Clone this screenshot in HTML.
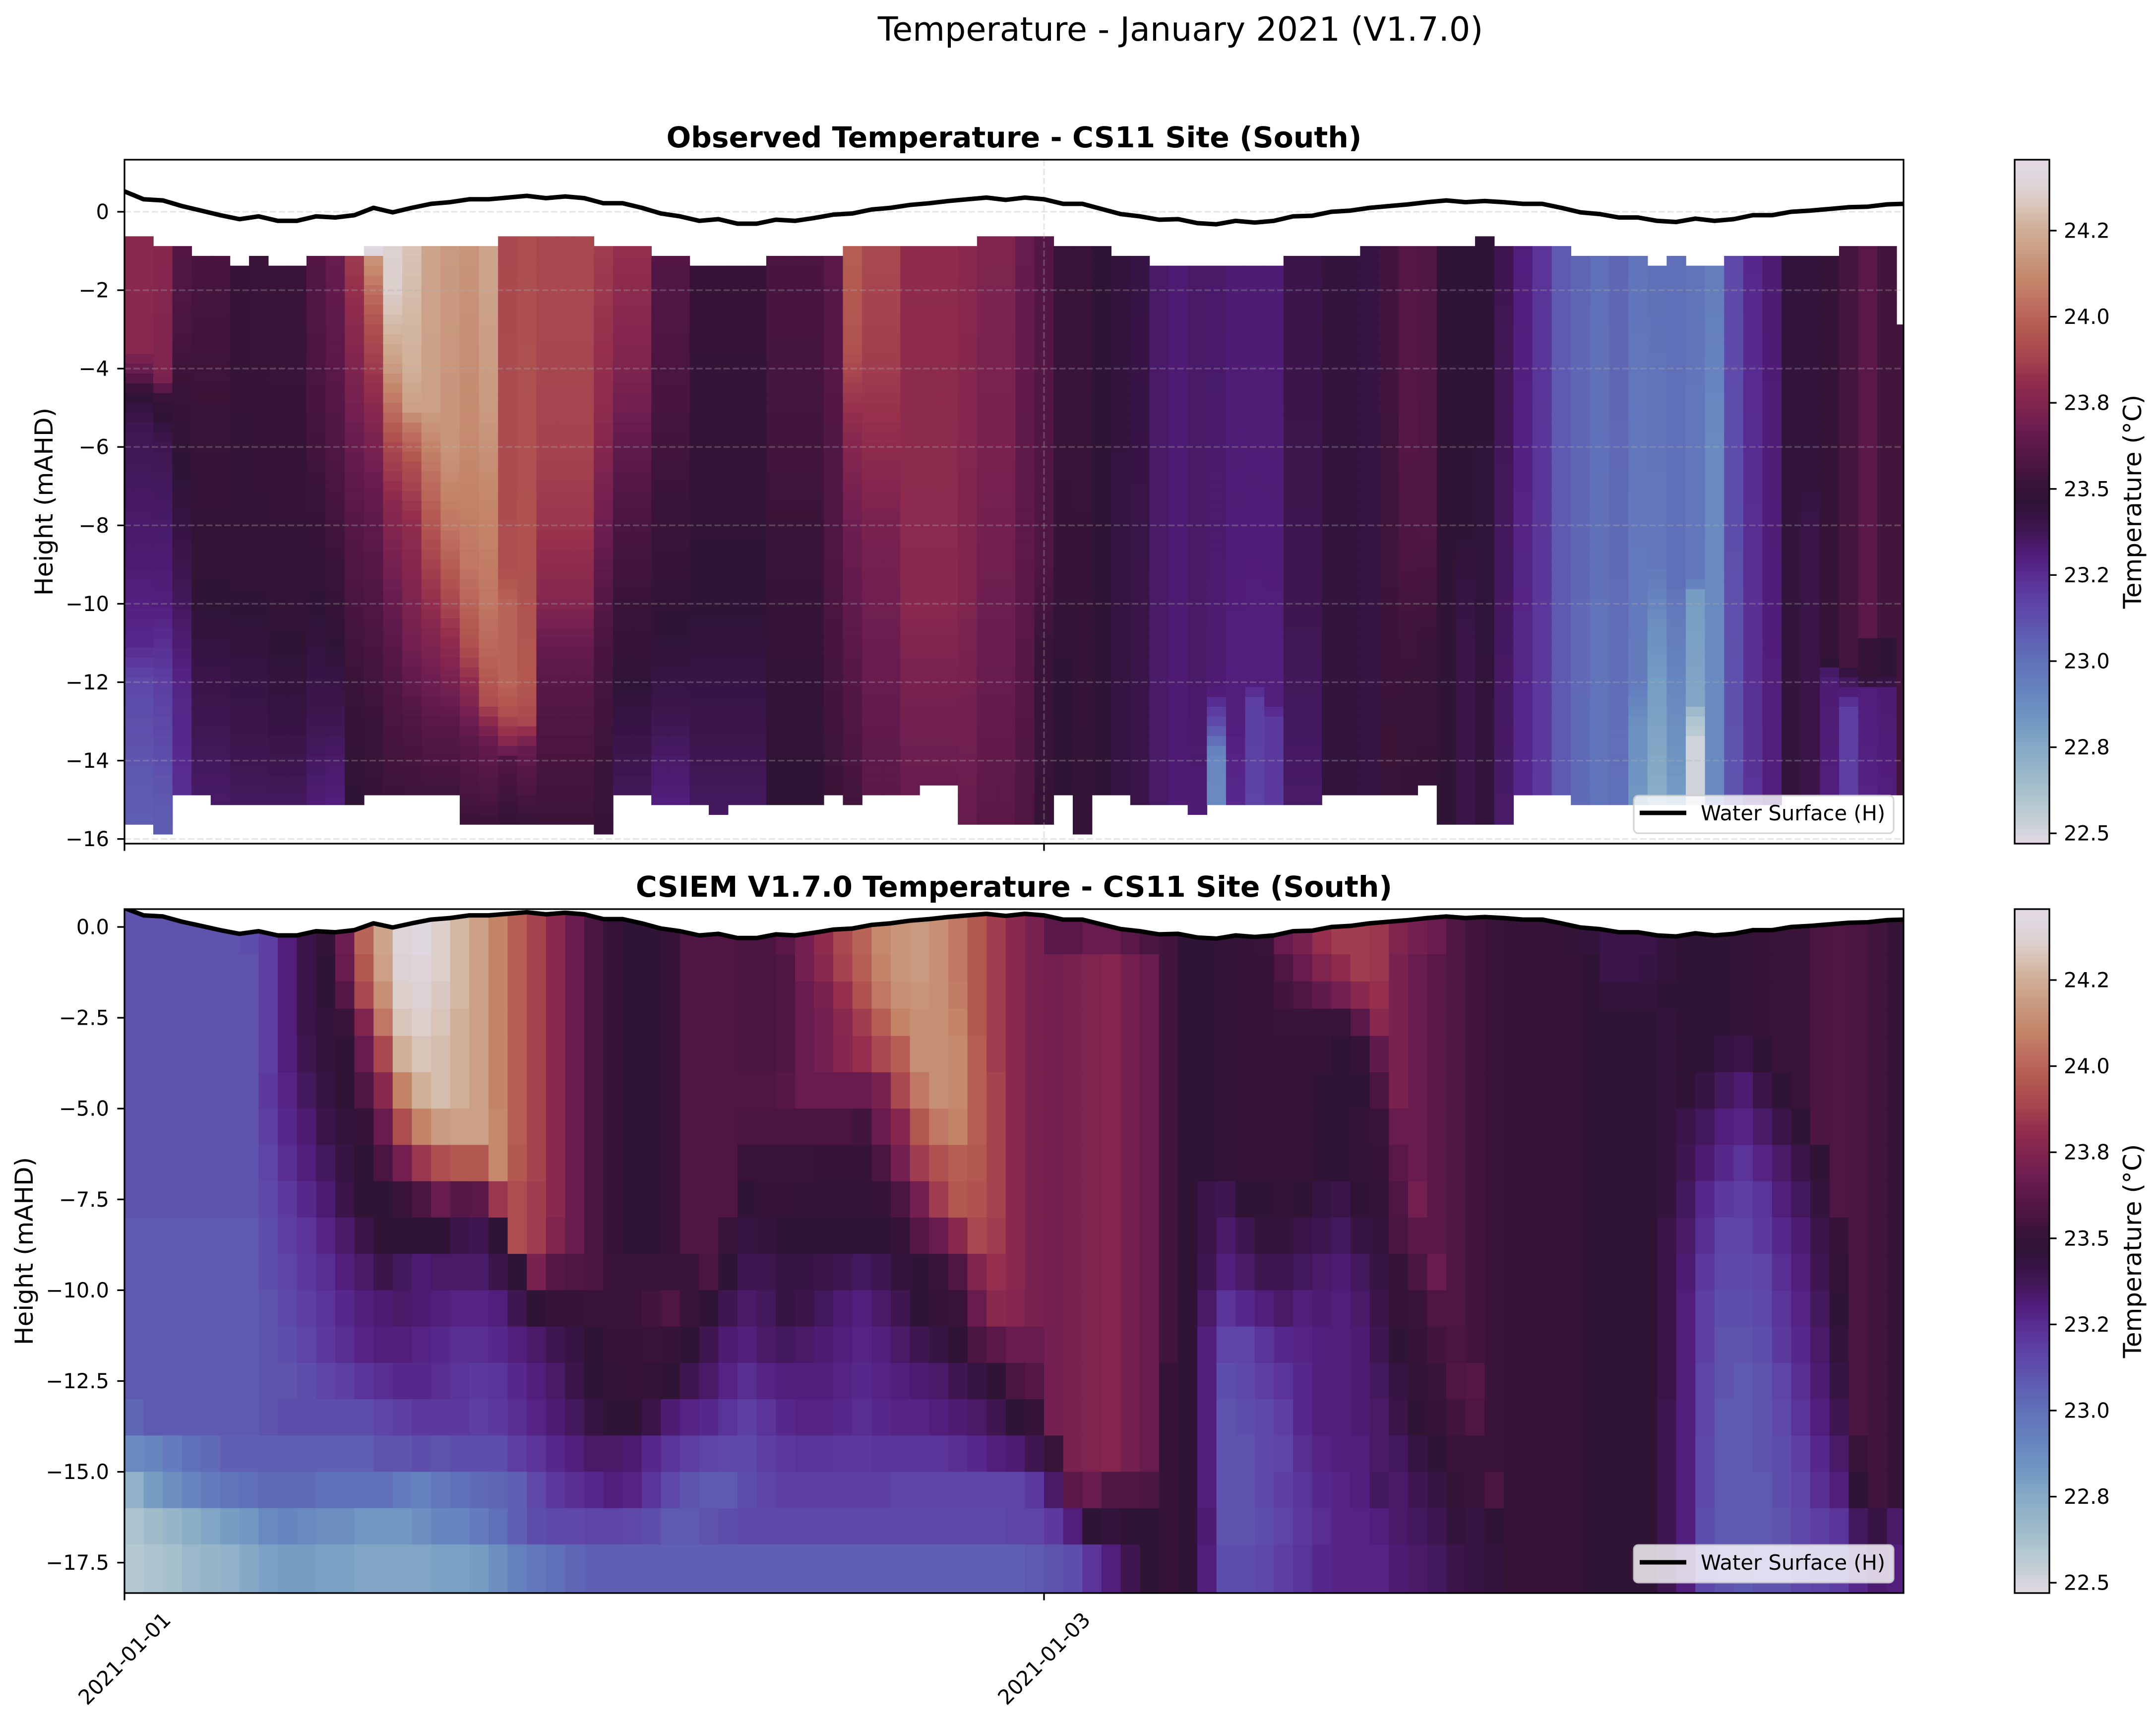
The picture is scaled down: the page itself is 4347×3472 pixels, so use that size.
<!DOCTYPE html>
<html><head><meta charset="utf-8">
<style>
html,body{margin:0;padding:0;background:#fff;}
svg{display:block;}
text{font-family:"DejaVu Sans","Liberation Sans",sans-serif;fill:#000;}
</style></head>
<body>
<svg id="s" xmlns="http://www.w3.org/2000/svg" width="4347" height="3472" viewBox="0 0 4347 3472">
<defs>
 <clipPath id="c1"><rect x="251" y="322" width="3587" height="1379"/></clipPath>
 <clipPath id="c2"><rect x="251" y="1833" width="3587" height="1379"/></clipPath>
 <linearGradient id="cg" x1="0" y1="0" x2="0" y2="1"></linearGradient>
</defs>
<rect x="0" y="0" width="4347" height="3472" fill="#fff"/>

<!-- Suptitle -->
<text x="2380" y="82" font-size="66.67" text-anchor="middle">Temperature - January 2021 (V1.7.0)</text>

<!-- ===== TOP PANEL ===== -->
<text x="2044.5" y="297" font-size="58.33" font-weight="bold" text-anchor="middle">Observed Temperature - CS11 Site (South)</text>
<g id="hm1" clip-path="url(#c1)"></g>
<g id="grid1" clip-path="url(#c1)" stroke="#b0b0b0" stroke-opacity="0.3" stroke-width="3.3" stroke-dasharray="12.8 5.5" fill="none">
 <line x1="251" y1="427" x2="3838" y2="427"/>
 <line x1="251" y1="585.1" x2="3838" y2="585.1"/>
 <line x1="251" y1="743.2" x2="3838" y2="743.2"/>
 <line x1="251" y1="901.2" x2="3838" y2="901.2"/>
 <line x1="251" y1="1059.3" x2="3838" y2="1059.3"/>
 <line x1="251" y1="1217.4" x2="3838" y2="1217.4"/>
 <line x1="251" y1="1375.5" x2="3838" y2="1375.5"/>
 <line x1="251" y1="1533.6" x2="3838" y2="1533.6"/>
 <line x1="251" y1="1691.6" x2="3838" y2="1691.6"/>
 <line x1="2105" y1="322" x2="2105" y2="1701"/>
</g>
<g clip-path="url(#c1)"><path id="line1" fill="none" stroke="#000" stroke-width="9" stroke-linejoin="round"/></g>
<rect x="251" y="322" width="3587" height="1379" fill="none" stroke="#000" stroke-width="3.3"/>
<!-- y ticks top -->
<g stroke="#000" stroke-width="3.3">
 <line x1="236.4" y1="427" x2="251" y2="427"/>
 <line x1="236.4" y1="585.1" x2="251" y2="585.1"/>
 <line x1="236.4" y1="743.2" x2="251" y2="743.2"/>
 <line x1="236.4" y1="901.2" x2="251" y2="901.2"/>
 <line x1="236.4" y1="1059.3" x2="251" y2="1059.3"/>
 <line x1="236.4" y1="1217.4" x2="251" y2="1217.4"/>
 <line x1="236.4" y1="1375.5" x2="251" y2="1375.5"/>
 <line x1="236.4" y1="1533.6" x2="251" y2="1533.6"/>
 <line x1="236.4" y1="1691.6" x2="251" y2="1691.6"/>
 <line x1="251" y1="1701" x2="251" y2="1715.6"/>
 <line x1="2105" y1="1701" x2="2105" y2="1715.6"/>
</g>
<g font-size="41.67" text-anchor="end" dominant-baseline="central">
 <text x="220" y="427">0</text>
 <text x="220" y="585.1">−2</text>
 <text x="220" y="743.2">−4</text>
 <text x="220" y="901.2">−6</text>
 <text x="220" y="1059.3">−8</text>
 <text x="220" y="1217.4">−10</text>
 <text x="220" y="1375.5">−12</text>
 <text x="220" y="1533.6">−14</text>
 <text x="220" y="1691.6">−16</text>
</g>
<text transform="translate(89,1011.5) rotate(-90)" font-size="50" text-anchor="middle" dominant-baseline="central">Height (mAHD)</text>
<!-- legend top -->
<rect x="3294" y="1604" width="524" height="76" rx="9" ry="9" fill="#fff" fill-opacity="0.8" stroke="#cccccc" stroke-opacity="0.8" stroke-width="3.3"/>
<line x1="3306" y1="1639" x2="3400" y2="1639" stroke="#000" stroke-width="9"/>
<text x="3429" y="1654" font-size="41.67">Water Surface (H)</text>
<!-- colorbar top -->
<rect x="4062" y="322" width="70" height="1379" fill="url(#cg)" stroke="#000" stroke-width="3.3"/>
<g stroke="#000" stroke-width="3.3">
 <line x1="4132" y1="465" x2="4146.6" y2="465"/>
 <line x1="4132" y1="638.6" x2="4146.6" y2="638.6"/>
 <line x1="4132" y1="812.2" x2="4146.6" y2="812.2"/>
 <line x1="4132" y1="985.8" x2="4146.6" y2="985.8"/>
 <line x1="4132" y1="1159.4" x2="4146.6" y2="1159.4"/>
 <line x1="4132" y1="1333" x2="4146.6" y2="1333"/>
 <line x1="4132" y1="1506.6" x2="4146.6" y2="1506.6"/>
 <line x1="4132" y1="1680.2" x2="4146.6" y2="1680.2"/>
</g>
<g font-size="41.67" dominant-baseline="central">
 <text x="4161" y="465">24.2</text>
 <text x="4161" y="638.6">24.0</text>
 <text x="4161" y="812.2">23.8</text>
 <text x="4161" y="985.8">23.5</text>
 <text x="4161" y="1159.4">23.2</text>
 <text x="4161" y="1333">23.0</text>
 <text x="4161" y="1506.6">22.8</text>
 <text x="4161" y="1680.2">22.5</text>
</g>
<text transform="translate(4300,1011.5) rotate(-90)" font-size="50" text-anchor="middle" dominant-baseline="central">Temperature (°C)</text>

<!-- ===== BOTTOM PANEL ===== -->
<text x="2044.5" y="1808" font-size="58.33" font-weight="bold" text-anchor="middle">CSIEM V1.7.0 Temperature - CS11 Site (South)</text>
<g id="hm2" clip-path="url(#c2)"></g>
<g clip-path="url(#c2)"><path id="mask2" fill="#fff" stroke="none"/><path id="line2" fill="none" stroke="#000" stroke-width="9" stroke-linejoin="round"/></g>
<rect x="251" y="1833" width="3587" height="1379" fill="none" stroke="#000" stroke-width="3.3"/>
<g stroke="#000" stroke-width="3.3">
 <line x1="236.4" y1="1869" x2="251" y2="1869"/>
 <line x1="236.4" y1="2052.1" x2="251" y2="2052.1"/>
 <line x1="236.4" y1="2235.2" x2="251" y2="2235.2"/>
 <line x1="236.4" y1="2418.3" x2="251" y2="2418.3"/>
 <line x1="236.4" y1="2601.4" x2="251" y2="2601.4"/>
 <line x1="236.4" y1="2784.5" x2="251" y2="2784.5"/>
 <line x1="236.4" y1="2967.6" x2="251" y2="2967.6"/>
 <line x1="236.4" y1="3150.7" x2="251" y2="3150.7"/>
 <line x1="251" y1="3212" x2="251" y2="3226.6"/>
 <line x1="2105" y1="3212" x2="2105" y2="3226.6"/>
</g>
<g font-size="41.67" text-anchor="end" dominant-baseline="central">
 <text x="220" y="1869">0.0</text>
 <text x="220" y="2052.1">−2.5</text>
 <text x="220" y="2235.2">−5.0</text>
 <text x="220" y="2418.3">−7.5</text>
 <text x="220" y="2601.4">−10.0</text>
 <text x="220" y="2784.5">−12.5</text>
 <text x="220" y="2967.6">−15.0</text>
 <text x="220" y="3150.7">−17.5</text>
</g>
<text transform="translate(49,2522.5) rotate(-90)" font-size="50" text-anchor="middle" dominant-baseline="central">Height (mAHD)</text>
<text transform="translate(251,3344) rotate(-45)" font-size="41.67" text-anchor="middle" dominant-baseline="central">2021-01-01</text>
<text transform="translate(2105,3344) rotate(-45)" font-size="41.67" text-anchor="middle" dominant-baseline="central">2021-01-03</text>
<!-- legend bottom -->
<rect x="3294" y="3115" width="524" height="76" rx="9" ry="9" fill="#fff" fill-opacity="0.8" stroke="#cccccc" stroke-opacity="0.8" stroke-width="3.3"/>
<line x1="3306" y1="3150" x2="3400" y2="3150" stroke="#000" stroke-width="9"/>
<text x="3429" y="3165" font-size="41.67">Water Surface (H)</text>
<!-- colorbar bottom -->
<rect x="4062" y="1833" width="70" height="1379" fill="url(#cg)" stroke="#000" stroke-width="3.3"/>
<g stroke="#000" stroke-width="3.3">
 <line x1="4132" y1="1976" x2="4146.6" y2="1976"/>
 <line x1="4132" y1="2149.6" x2="4146.6" y2="2149.6"/>
 <line x1="4132" y1="2323.2" x2="4146.6" y2="2323.2"/>
 <line x1="4132" y1="2496.8" x2="4146.6" y2="2496.8"/>
 <line x1="4132" y1="2670.4" x2="4146.6" y2="2670.4"/>
 <line x1="4132" y1="2844" x2="4146.6" y2="2844"/>
 <line x1="4132" y1="3017.6" x2="4146.6" y2="3017.6"/>
 <line x1="4132" y1="3191.2" x2="4146.6" y2="3191.2"/>
</g>
<g font-size="41.67" dominant-baseline="central">
 <text x="4161" y="1976">24.2</text>
 <text x="4161" y="2149.6">24.0</text>
 <text x="4161" y="2323.2">23.8</text>
 <text x="4161" y="2496.8">23.5</text>
 <text x="4161" y="2670.4">23.2</text>
 <text x="4161" y="2844">23.0</text>
 <text x="4161" y="3017.6">22.8</text>
 <text x="4161" y="3191.2">22.5</text>
</g>
<text transform="translate(4300,2522.5) rotate(-90)" font-size="50" text-anchor="middle" dominant-baseline="central">Temperature (°C)</text>
</svg>

<script>
(function(){
var NS="http://www.w3.org/2000/svg";
var STOPS=[[0,"#e2d9e2"],[0.03,"#c8d0d8"],[0.06,"#b4c8d0"],[0.09,"#a0bccb"],[0.14,"#86aac6"],[0.18,"#7098c2"],[0.23,"#6580be"],[0.27,"#6070b8"],[0.31,"#5e5ab1"],[0.33,"#5e4eab"],[0.35,"#5d44a6"],[0.38,"#5a3498"],[0.40,"#56288c"],[0.42,"#521e7c"],[0.44,"#481a68"],[0.46,"#3f1650"],[0.48,"#361444"],[0.50,"#2f1436"],[0.53,"#3a1438"],[0.55,"#4a1540"],[0.58,"#5a1848"],[0.61,"#6d1e50"],[0.65,"#84264e"],[0.68,"#952f4d"],[0.71,"#a5444f"],[0.75,"#b35850"],[0.79,"#be7060"],[0.82,"#c48468"],[0.86,"#c99a80"],[0.90,"#d0b098"],[0.93,"#d8c4b8"],[0.95,"#dccfcc"],[0.98,"#e0d8e0"],[1.0,"#e2d9e2"]];
function h2r(h){return [parseInt(h.substr(1,2),16),parseInt(h.substr(3,2),16),parseInt(h.substr(5,2),16)];}
var CS=STOPS.map(function(s){return [s[0],h2r(s[1])];});
function cmap(f){
  if(!(f>=0)) f=0; if(f>1) f=1;
  for(var i=1;i<CS.length;i++){
    if(f<=CS[i][0]){var a=CS[i-1],b=CS[i];var t=(f-a[0])/(b[0]-a[0]);
      var c=[0,1,2].map(function(j){return Math.round(a[1][j]+(b[1][j]-a[1][j])*t);});
      return "rgb("+c.join(",")+")";}
  }
  return "rgb(226,217,226)";
}
var g=document.getElementById("cg");
for(var i=CS.length-1;i>=0;i--){
  var st=document.createElementNS(NS,"stop");
  st.setAttribute("offset",((1-CS[i][0])*100).toFixed(2)+"%");
  st.setAttribute("stop-color",STOPS[i][1]);
  g.appendChild(st);
}
function X(h){return 251+38.625*h;}
function Y1(v){return 427-79.04*v;}
function Y2(v){return 1869-73.24*v;}
var HMAX=92.87;
function rect(gr,x0,x1,y0,y1,fill){
  var r=document.createElementNS(NS,"rect");
  r.setAttribute("x",x0.toFixed(2));r.setAttribute("y",y0.toFixed(2));
  r.setAttribute("width",(x1-x0+0.8).toFixed(2));r.setAttribute("height",(y1-y0+0.8).toFixed(2));
  r.setAttribute("fill",fill);gr.appendChild(r);
}
function prof(P,v){
  if(v>=P[0][0]) return P[0][1];
  for(var i=1;i<P.length;i++){
    if(v>=P[i][0]){var a=P[i-1],b=P[i];var t=(a[0]-v)/(a[0]-b[0]);return a[1]+(b[1]-a[1])*t;}
  }
  return P[P.length-1][1];
}
var P45=[[-1,0.55],[-5,0.53],[-10,0.5],[-12,0.47],[-15,0.44]];
var P30=[[-1.3,0.52],[-6,0.51],[-10,0.5],[-13,0.47],[-15,0.45]];
var P41=[[-0.8,0.67],[-10,0.66],[-12,0.63],[-14.7,0.6]];
var TOP=[
[0,1,-0.625,-15.625,[[-0.6,0.66],[-3.5,0.66],[-4.2,0.58],[-4.7,0.5],[-5.5,0.46],[-9,0.43],[-11,0.4],[-12,0.34],[-15.6,0.3]]],
[2,2,-0.875,-15.875,[[-0.8,0.655],[-4.2,0.64],[-4.8,0.52],[-6,0.46],[-10,0.42],[-12,0.36],[-16,0.3]]],
[3,3,-0.875,-14.875,[[-0.8,0.57],[-3,0.55],[-5,0.52],[-8,0.48],[-10,0.45],[-12,0.41],[-15,0.39]]],
[4,4,-1.125,-14.875,P45],
[5,5,-1.125,-15.125,P45],
[6,6,-1.375,-15.125,[[-1,0.52],[-9,0.51],[-12,0.48],[-15,0.45]]],
[7,7,-1.125,-15.125,[[-1,0.53],[-9,0.51],[-12,0.48],[-15,0.45]]],
[8,9,-1.375,-15.125,[[-1,0.53],[-10,0.51],[-13,0.48],[-15,0.45]]],
[10,10,-1.125,-15.125,[[-1,0.57],[-6,0.54],[-10,0.5],[-13,0.46],[-15,0.43]]],
[11,11,-1.125,-15.125,[[-1,0.6],[-4,0.58],[-7,0.55],[-10,0.52],[-13,0.46],[-15,0.42]]],
[12,12,-1.125,-15.125,[[-1,0.7],[-2,0.68],[-4,0.64],[-6,0.6],[-9,0.56],[-12,0.53],[-15,0.5]]],
[13,13,-0.875,-14.875,[[-0.8,0.98],[-1.0,0.98],[-1.2,0.85],[-2,0.79],[-3,0.73],[-5,0.66],[-7,0.6],[-10,0.56],[-13,0.53],[-15,0.52]]],
[14,14,-0.875,-14.875,[[-0.8,0.96],[-2,0.95],[-3,0.91],[-4,0.86],[-5,0.79],[-6,0.72],[-7.5,0.66],[-10,0.6],[-12,0.56],[-15,0.53]]],
[15,15,-0.875,-14.875,[[-0.8,0.93],[-4,0.9],[-5,0.87],[-5.5,0.8],[-6.5,0.73],[-8,0.67],[-11,0.62],[-13,0.56],[-15,0.53]]],
[16,16,-0.875,-14.875,[[-0.8,0.88],[-5,0.87],[-6,0.82],[-7,0.78],[-9,0.71],[-11,0.64],[-13,0.58],[-15,0.53]]],
[17,17,-0.875,-14.875,[[-0.8,0.86],[-6,0.85],[-8,0.8],[-9.5,0.74],[-11,0.67],[-13,0.58],[-15,0.53]]],
[18,18,-0.875,-15.625,[[-0.8,0.85],[-6,0.83],[-9,0.8],[-11,0.74],[-12,0.67],[-13.5,0.58],[-15.6,0.53]]],
[19,19,-0.875,-15.625,[[-0.8,0.88],[-5,0.86],[-7,0.83],[-10,0.8],[-11,0.78],[-12.5,0.73],[-13.5,0.6],[-15.6,0.53]]],
[20,20,-0.625,-15.625,[[-0.6,0.72],[-9,0.73],[-10,0.77],[-12,0.77],[-12.7,0.74],[-13.5,0.66],[-14,0.56],[-15.6,0.52]]],
[21,21,-0.625,-15.625,[[-0.6,0.73],[-10,0.74],[-12,0.75],[-13,0.72],[-13.7,0.6],[-15.6,0.52]]],
[22,24,-0.625,-15.625,[[-0.6,0.72],[-6,0.71],[-8,0.69],[-10,0.65],[-11,0.6],[-13,0.56],[-15.6,0.53]]],
[25,25,-0.875,-15.875,[[-0.8,0.7],[-5,0.67],[-7,0.63],[-9,0.59],[-11,0.55],[-15.9,0.52]]],
[26,27,-0.875,-14.875,[[-0.8,0.68],[-4,0.64],[-6,0.59],[-8,0.55],[-11,0.52],[-13,0.48],[-15,0.45]]],
[28,29,-1.125,-15.125,[[-1,0.57],[-6,0.54],[-9,0.52],[-12,0.48],[-14,0.44],[-15,0.42]]],
[30,30,-1.375,-15.125,P30],
[31,31,-1.375,-15.375,P30],
[32,33,-1.375,-15.125,P30],
[34,36,-1.125,-15.125,[[-1,0.55],[-6,0.54],[-10,0.52],[-15,0.5]]],
[37,37,-1.125,-14.875,[[-1,0.58],[-8,0.56],[-15,0.53]]],
[38,38,-0.875,-15.125,[[-0.8,0.76],[-3.5,0.74],[-4.5,0.7],[-6,0.65],[-8,0.61],[-12,0.57],[-15,0.54]]],
[39,40,-0.875,-14.875,[[-0.8,0.72],[-4,0.7],[-6,0.67],[-8,0.63],[-12,0.6],[-15,0.58]]],
[41,41,-0.875,-14.875,P41],
[42,43,-0.875,-14.625,P41],
[44,44,-0.875,-15.625,[[-0.8,0.66],[-10,0.64],[-15.6,0.6]]],
[45,46,-0.625,-15.625,[[-0.6,0.64],[-6,0.63],[-12,0.6],[-15.6,0.58]]],
[47,47,-0.625,-15.625,[[-0.6,0.6],[-10,0.58],[-15.6,0.56]]],
[48,48,-0.625,-15.625,[[-0.6,0.57],[-9,0.56],[-11,0.53],[-15.6,0.52]]],
[49,49,-0.875,-14.875,[[-0.8,0.53],[-9,0.52],[-12,0.5],[-15,0.5]]],
[50,50,-0.875,-15.875,[[-0.8,0.53],[-10,0.52],[-16,0.51]]],
[51,51,-0.875,-14.875,[[-0.8,0.5],[-15,0.5]]],
[52,52,-1.125,-14.875,[[-1,0.49],[-15,0.48]]],
[53,53,-1.125,-15.125,[[-1,0.48],[-15,0.47]]],
[54,54,-1.375,-15.125,[[-1.3,0.44],[-15,0.44]]],
[55,55,-1.375,-15.125,[[-1.3,0.43],[-15,0.43]]],
[56,56,-1.375,-15.375,[[-1.3,0.44],[-12,0.44],[-15.3,0.43]]],
[57,57,-1.375,-15.125,[[-1.3,0.44],[-12.2,0.43],[-12.6,0.38],[-13,0.34],[-13.4,0.29],[-13.8,0.22],[-15,0.21]]],
[58,58,-1.375,-15.125,[[-1.3,0.43],[-13,0.42],[-15,0.4]]],
[59,59,-1.375,-15.125,[[-1.3,0.43],[-12,0.42],[-12.5,0.36],[-15,0.35]]],
[60,60,-1.375,-15.125,[[-1.3,0.43],[-12.5,0.42],[-13,0.37],[-15,0.37]]],
[61,62,-1.125,-15.125,[[-1,0.47],[-10,0.46],[-15,0.44]]],
[63,64,-1.125,-14.875,[[-1,0.49],[-15,0.49]]],
[65,65,-0.875,-14.875,[[-0.8,0.48],[-15,0.48]]],
[66,66,-0.875,-14.875,[[-0.8,0.54],[-15,0.53]]],
[67,67,-0.875,-14.875,[[-0.8,0.57],[-6,0.57],[-9,0.55],[-12,0.53],[-15,0.52]]],
[68,68,-0.875,-14.625,[[-0.8,0.565],[-8,0.56],[-11,0.53],[-14.6,0.52]]],
[69,69,-0.875,-15.625,[[-0.8,0.5],[-15.6,0.5]]],
[70,70,-0.875,-15.625,[[-0.8,0.5],[-8,0.5],[-11,0.47],[-15.6,0.47]]],
[71,71,-0.625,-15.625,[[-0.6,0.5],[-15.6,0.49]]],
[72,72,-0.875,-15.625,[[-0.8,0.46],[-15.6,0.44]]],
[73,73,-0.875,-14.875,[[-0.8,0.42],[-15,0.4]]],
[74,74,-0.875,-14.875,[[-0.8,0.38],[-15,0.37]]],
[75,75,-0.875,-14.875,[[-0.8,0.31],[-15,0.31]]],
[76,76,-1.125,-15.125,[[-1,0.29],[-15,0.28]]],
[77,77,-1.125,-15.125,[[-1,0.27],[-15,0.26]]],
[78,78,-1.125,-15.125,[[-1,0.29],[-15,0.27]]],
[79,79,-1.125,-15.125,[[-1,0.26],[-12,0.24],[-13,0.2],[-15,0.18]]],
[80,80,-1.375,-15.125,[[-1.3,0.27],[-9,0.25],[-10.5,0.2],[-12,0.17],[-15,0.13]]],
[81,81,-1.125,-15.125,[[-1,0.27],[-9.5,0.27],[-10,0.25],[-13,0.2],[-15,0.17]]],
[82,82,-1.375,-15.125,[[-1.3,0.26],[-9.4,0.25],[-9.7,0.17],[-12.5,0.15],[-12.8,0.08],[-13.3,0.05],[-13.5,0.02],[-15,0.02]]],
[83,83,-1.375,-15.125,[[-1.3,0.24],[-6,0.21],[-15,0.21]]],
[84,84,-1.125,-15.125,[[-1,0.34],[-15,0.32]]],
[85,85,-1.125,-15.125,[[-1,0.4],[-15,0.38]]],
[86,86,-1.125,-15.125,[[-1,0.43],[-15,0.42]]],
[87,87,-1.125,-14.875,[[-1,0.49],[-15,0.49]]],
[88,88,-1.125,-14.875,[[-1,0.49],[-7,0.49],[-8,0.47],[-15,0.47]]],
[89,89,-1.125,-14.875,[[-1,0.52],[-11.4,0.52],[-11.8,0.43],[-15,0.42]]],
[90,90,-0.875,-14.875,[[-0.8,0.545],[-11.5,0.545],[-11.8,0.47],[-12.3,0.42],[-12.7,0.36],[-15,0.36]]],
[91,91,-0.875,-14.875,[[-0.8,0.58],[-10.8,0.58],[-11,0.52],[-11.9,0.52],[-12.2,0.42],[-15,0.41]]],
[92,92,-0.875,-14.875,[[-0.8,0.54],[-10.8,0.54],[-11,0.5],[-11.9,0.5],[-12.2,0.43],[-15,0.42]]],
[93,93,-2.875,-14.875,[[-2.8,0.54],[-15,0.54]]]
];
var g1=document.getElementById("hm1");
TOP.forEach(function(G){
  for(var c=G[0];c<=G[1];c++){
    var h0=Math.max(0,c-0.5),h1=Math.min(HMAX,c+0.5);
    if(h1<=h0) continue;
    var n=Math.round((G[2]-G[3])/0.25);
    for(var i=0;i<n;i++){
      var vt=G[2]-0.25*i;
      rect(g1,X(h0),X(h1),Y1(vt),Y1(vt-0.25),cmap(prof(G[4],vt-0.125)));
    }
  }
});
var RB=[1.2,-0.75,-1.5,-2.25,-3,-4,-5,-6,-7,-8,-9,-10,-11,-12,-13,-14,-15,-16,-17,-18.6];
var BR=[
["32 32 32 32 32 32 33","36 42 47 51 61 77 88 97 98 95 91 87 82 76 71 66 60 55 52 50 50 52 56 56 56 55 55 58 62 67 72 77 83 85 86 84 80 75 70 66 63","58 58 60 60 58 55 54 50 50 51 52 53 60 63 68 70 70 69 64 62 60 56 54 53 52 52 52 51 49 47 47 47 49 50 50 50 51 52 53 53 55 56 55 54 52"],
["32 32 32 32 32 32 32","36 42 47 50 60 75 87 96 97 95 91 87 82 76 71 66 60 55 52 50 50 52 56 56 56 55 55 56 62 66 71 76 82 85 86 84 80 75 70 66 63","62 63 64 65 62 60 54 50 50 51 52 52 56 60 64 67 70 69 63 60 58 56 54 53 52 52 52 52 50 47 47 48 49 50 50 50 51 52 53 53 55 56 55 54 52"],
["32 32 32 32 32 32 32","36 42 47 50 57 72 84 95 96 94 91 87 82 76 71 66 60 55 52 50 50 52 56 56 56 55 55 56 60 63 68 74 80 84 85 84 81 75 70 66 63","62 63 64 65 62 60 54 50 50 51 52 52 54 56 59 62 66 68 63 60 58 56 54 53 52 52 52 52 50 49 49 49 50 50 50 50 51 52 53 53 55 56 55 54 52"],
["32 32 32 32 32 32 32","36 42 47 49 53 64 80 93 95 93 90 87 82 76 71 66 60 55 52 50 50 52 56 56 56 55 55 56 60 62 66 70 76 82 84 84 82 75 70 66 63","62 63 64 65 62 60 54 50 50 51 52 52 53 53 53 53 58 66 63 60 58 56 54 53 52 52 52 52 50 50 50 50 49 50 50 50 51 52 53 53 55 56 55 54 52"],
["32 32 32 32 32 32 32","36 42 46 49 50 60 72 90 93 92 90 87 82 76 71 66 60 55 52 50 50 52 56 56 56 55 55 56 60 62 65 68 72 76 84 84 83 76 70 66 63","62 63 64 65 62 60 54 50 50 51 52 52 52 52 52 50 52 59 63 60 58 56 54 53 52 52 52 52 50 50 50 50 49 50 50 48 47 50 53 53 55 56 55 54 52"],
["32 32 32 32 32 32 32","37 41 45 48 50 56 66 82 90 92 90 87 82 76 71 66 60 55 52 50 50 52 56 56 56 56 56 57 60 60 60 60 63 72 80 84 83 76 71 66 63","62 63 64 65 62 60 54 50 50 51 52 52 52 52 50 50 50 55 63 60 58 56 54 53 52 52 52 52 50 50 50 50 49 50 48 45 43 47 50 53 55 56 55 54 52"],
["32 32 32 32 32 32 32","36 40 43 47 49 52 60 73 82 86 87 87 83 76 71 66 60 55 52 50 50 52 56 56 56 55 55 55 55 55 55 54 60 65 75 80 82 76 71 66 63","62 63 64 65 62 60 54 50 50 51 52 52 52 52 50 50 51 53 60 60 58 56 54 53 52 52 52 52 50 50 50 50 49 47 45 42 41 44 47 50 55 56 55 54 52"],
["32 32 32 32 32 32 32","35 39 42 45 48 50 55 62 69 73 75 75 83 75 71 66 60 55 52 50 50 52 56 56 56 53 53 53 53 52 52 52 55 62 70 74 76 75 71 66 63","62 63 64 65 62 60 54 50 50 51 52 52 52 52 50 50 51 52 58 60 58 56 54 53 52 52 52 52 50 50 50 50 49 46 43 40 38 41 44 47 50 56 55 54 52"],
["32 32 32 32 32 32 32","34 37 40 43 47 50 50 53 55 60 57 58 69 73 70 66 60 55 52 50 50 52 56 56 56 50 52 52 51 51 51 51 52 55 62 70 75 74 71 66 63","62 63 64 65 62 60 54 50 47 46 50 50 51 50 48 47 50 51 56 62 58 56 54 53 52 52 52 52 50 50 50 50 49 45 40 37 36 38 42 45 49 56 55 54 52"],
["31 31 31 31 31 31 31","33 36 38 41 44 47 50 50 50 50 47 46 50 73 70 64 60 55 52 50 50 52 56 56 53 48 49 50 50 50 50 50 50 52 57 60 66 72 70 66 63","62 63 64 65 62 60 54 50 47 44 46 49 49 47 46 45 48 49 55 58 58 56 54 53 52 52 52 52 50 50 50 50 47 44 39 35 35 37 40 43 47 52 55 54 52"],
["31 31 31 31 31 31 31","33 35 37 39 42 44 47 45 43 44 44 44 47 50 63 57 56 55 53 53 53 53 53 55 50 46 46 48 48 47 46 45 46 49 50 53 56 64 68 66 63","62 63 64 65 62 60 54 50 46 42 44 46 46 45 44 43 45 48 52 55 60 56 54 53 52 52 52 52 50 50 50 50 47 43 37 34 34 35 39 42 46 51 55 54 52"],
["31 31 31 31 31 31 31","32 34 36 38 40 42 43 44 43 42 41 41 42 46 50 52 52 53 53 53 54 56 53 50 46 44 45 48 47 45 43 42 44 46 50 52 53 60 66 65 63","62 63 64 65 62 60 54 50 44 38 40 42 44 42 43 42 44 47 52 53 56 56 54 53 52 52 52 52 50 50 50 50 47 42 36 33 33 34 38 41 45 50 55 54 52"],
["31 31 31 31 31 31 31","32 33 35 37 39 41 42 42 41 40 39 39 40 42 44 46 48 50 52 52 53 52 50 46 43 42 44 45 44 43 42 41 42 44 46 48 50 55 58 60 60","62 63 64 65 62 60 54 50 42 35 35 38 40 41 42 42 43 46 50 52 54 55 54 53 52 52 52 52 50 50 50 50 47 42 36 32 32 33 37 40 44 49 55 54 52"],
["31 31 31 31 31 31 31","32 32 33 35 36 38 39 40 40 39 38 37 38 40 42 44 47 50 51 52 51 50 46 44 41 39 41 42 42 42 41 40 41 42 43 44 46 48 50 55 57","62 63 64 65 62 60 52 50 42 33 34 36 38 40 42 42 43 45 48 51 53 56 57 53 52 52 52 52 50 50 50 50 47 42 35 32 31 32 35 39 43 48 55 54 52"],
["29 31 31 31 31 31 31","32 33 33 33 33 33 35 36 37 37 37 36 37 39 41 43 45 48 50 50 47 43 41 40 38 36 38 40 41 41 40 39 40 41 41 42 43 44 46 50 52","62 63 64 65 62 60 52 50 42 32 33 34 36 40 42 42 43 44 47 50 52 54 56 53 52 52 52 52 50 50 50 50 46 42 35 31 31 32 34 38 42 46 55 54 52"],
["21 22 24 27 28 30 30","30 30 30 30 30 30 32 32 33 32 33 33 33 36 38 40 42 44 44 43 40 38 36 35 34 34 36 37 38 38 37 37 38 38 38 38 39 40 42 43 46","53 63 64 65 62 60 52 50 42 32 32 34 35 39 41 42 42 44 45 48 50 53 53 53 52 52 52 52 50 50 50 50 46 42 34 31 31 32 33 36 40 44 53 54 52"],
["12 17 20 22 24 26 27","28 28 28 27 27 27 27 24 23 25 27 28 29 30 34 37 39 40 42 41 38 34 32 31 31 33 35 36 36 36 36 36 36 35 35 35 35 35 35 35 37","44 58 60 56 56 55 52 50 42 32 32 34 36 38 40 41 42 45 44 46 48 51 53 55 52 52 52 52 50 50 50 50 46 42 34 31 31 31 33 35 39 42 50 54 52"],
["7 9 11 13 15 17 18","21 22 21 20 20 18 18 18 20 22 22 24 27 30 33 34 34 35 35 34 33 31 31 32 33 34 34 34 34 34 34 34 34 34 34 34 34 34 34 35 35","37 42 50 49 50 50 52 50 43 32 32 33 35 37 39 41 41 42 44 45 46 49 48 50 52 52 52 52 50 50 50 50 46 42 33 31 31 31 32 34 36 38 45 48 44"],
["6 7 8 10 11 12 14","16 17 17 16 16 15 15 15 15 16 16 17 20 23 25 27 29 30 30 30 30 30 30 30 30 30 30 30 30 30 30 30 30 30 30 30 30 30 30 30 31","32 33 38 42 46 50 52 50 42 33 33 34 36 38 40 41 41 41 43 44 45 47 48 49 52 52 52 52 50 50 50 50 46 42 34 32 31 32 32 34 35 36 40 43 42"]
];
function fix(arr,n){arr=arr.slice(0,n);while(arr.length<n)arr.push(arr.length?arr[arr.length-1]:50);return arr;}
var g2=document.getElementById("hm2");
for(var r=0;r<BR.length;r++){
  var p0=fix(BR[r][0].trim().split(/\s+/).map(Number),7);
  var p1=fix(BR[r][1].trim().split(/\s+/).map(Number),41);
  var p2=fix(BR[r][2].trim().split(/\s+/).map(Number),45);
  var vals=p0.concat(p1,p2);
  for(var c=0;c<93;c++){
    var h0=c,h1=Math.min(HMAX,c+1);
    rect(g2,X(h0),X(h1),Y2(RB[r]),Y2(RB[r+1]),cmap(vals[c]/100));
  }
}
var S=[0.52,0.319,0.29,0.145,0.03,-0.087,-0.188,-0.116,-0.232,-0.232,-0.116,-0.145,-0.087,0.101,-0.014,0.101,0.203,0.246,0.319,0.319,0.362,0.406,0.348,0.391,0.348,0.217,0.217,0.101,-0.043,-0.116,-0.232,-0.188,-0.304,-0.304,-0.203,-0.232,-0.159,-0.072,-0.043,0.058,0.101,0.174,0.217,0.275,0.319,0.362,0.304,0.362,0.319,0.203,0.203,0.072,-0.058,-0.116,-0.203,-0.188,-0.29,-0.319,-0.232,-0.275,-0.232,-0.116,-0.101,0,0.03,0.101,0.145,0.188,0.246,0.29,0.246,0.275,0.246,0.203,0.203,0.101,-0.014,-0.058,-0.145,-0.145,-0.232,-0.261,-0.174,-0.232,-0.188,-0.087,-0.087,0,0.03,0.072,0.116,0.13,0.188];
var pts=[];
for(var k=0;k<S.length;k++) pts.push([k,S[k]]);
pts.push([HMAX,0.203]);
var d1="",d2="",m2="M"+X(0).toFixed(1)+",1820 ";
pts.forEach(function(p,i){
  d1+=(i?"L":"M")+X(p[0]).toFixed(1)+","+Y1(p[1]).toFixed(1)+" ";
  d2+=(i?"L":"M")+X(p[0]).toFixed(1)+","+Y2(p[1]).toFixed(1)+" ";
  m2+="L"+X(p[0]).toFixed(1)+","+Y2(p[1]).toFixed(1)+" ";
});
m2+="L3850,"+Y2(0.203).toFixed(1)+" L3850,1820 Z";
document.getElementById("line1").setAttribute("d",d1);
document.getElementById("line2").setAttribute("d",d2);
document.getElementById("mask2").setAttribute("d",m2);
})();
</script>
</body></html>
